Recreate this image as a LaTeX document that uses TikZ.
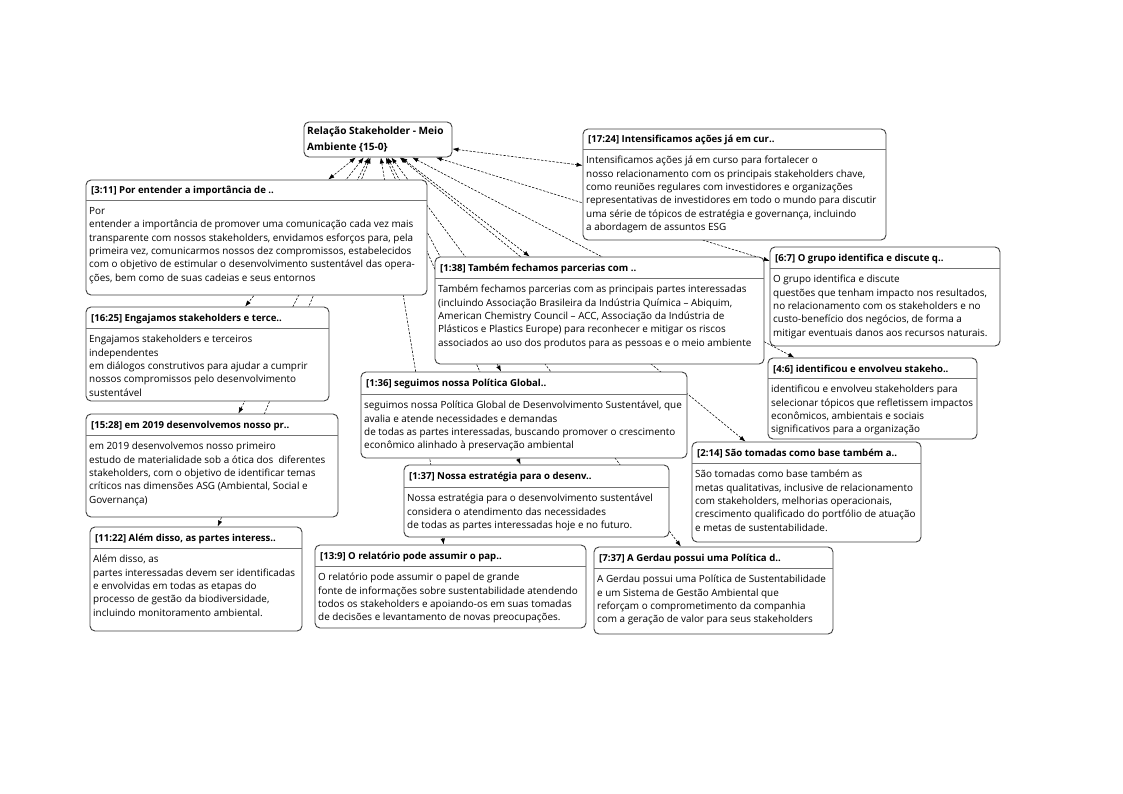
\documentclass[tikz,border=0pt]{standalone}
\usepackage{fontspec}
\setmainfont{Open Sans}
\usetikzlibrary{fit,arrows.meta}
\pgfdeclarelayer{background}
\pgfsetlayers{background,main}
\tikzset{
  qbox/.style={draw=black!75, line width=0.9pt, rounded corners=5pt, fill=white, inner sep=0pt},
  sepline/.style={draw=black!55, line width=0.8pt},
  ttl/.style={inner sep=0pt, font=\fontsize{9.6}{11}\selectfont\bfseries},
  bdy/.style={inner sep=0pt, align=left, font=\fontsize{9.9}{13.4}\selectfont},
  link/.style={black, line width=0.55pt, dash pattern=on 2.4pt off 1.4pt, {Latex[length=6pt,width=4.4pt]}-{Latex[length=6pt,width=4.4pt]}},
}
\newcommand{\qb}[8]{%
  \node[qbox, fit={(#2,#3) (#4,#5)}] (#1) {};
  \draw[sepline] (#2,#6) -- (#4,#6);
  \node[ttl, anchor=base west] at (#2+5,#3+14) {#7};
  \node[bdy, anchor=north west] at (#2+3,#6+7) {#8};
}
\begin{document}
\begin{tikzpicture}[x=1pt,y=-1pt]
\useasboundingbox (0,0) rectangle (1123,794);
% central code node
\node[qbox, fit={(304,122) (452,157)}] (c) {};
\node[inner sep=0pt, anchor=north west, align=left, font=\fontsize{10.1}{15.5}\selectfont\bfseries] at (307,127) {Relação Stakeholder - Meio\\Ambiente \{15-0\}};

\qb{q1724}{583}{129}{886}{240}{149}{[17:24] Intensificamos ações já em cur..}{Intensificamos ações já em curso para fortalecer o\\nosso relacionamento com os principais stakeholders chave,\\como reuniões regulares com investidores e organizações\\representativas de investidores em todo o mundo para discutir\\uma série de tópicos de estratégia e governança, incluindo\\a abordagem de assuntos ESG}

\qb{q311}{86}{180}{427}{295}{200}{[3:11] Por entender a importância de ..}{Por\\entender a importância de promover uma comunicação cada vez mais\\transparente com nossos stakeholders, envidamos esforços para, pela\\primeira vez, comunicarmos nossos dez compromissos, estabelecidos\\com o objetivo de estimular o desenvolvimento sustentável das opera-\\ções, bem como de suas cadeias e seus entornos}

\qb{q67}{770}{247}{1000}{346}{268}{[6:7] O grupo identifica e discute q..}{O grupo identifica e discute\\questões que tenham impacto nos resultados,\\no relacionamento com os stakeholders e no\\custo-benefício dos negócios, de forma a\\mitigar eventuais danos aos recursos naturais.}

\qb{q138}{435}{257}{764}{364}{278}{[1:38] Também fechamos parcerias com ..}{Também fechamos parcerias com as principais partes interessadas\\(incluindo Associação Brasileira da Indústria Química – Abiquim,\\American Chemistry Council – ACC, Associação da Indústria de\\Plásticos e Plastics Europe) para reconhecer e mitigar os riscos\\associados ao uso dos produtos para as pessoas e o meio ambiente}

\qb{q46}{768}{358}{977}{439}{378}{[4:6] identificou e envolveu stakeho..}{identificou e envolveu stakeholders para\\selecionar tópicos que refletissem impactos\\econômicos, ambientais e sociais\\significativos para a organização}

\qb{q1625}{86}{307}{329}{401}{328}{[16:25] Engajamos stakeholders e terce..}{Engajamos stakeholders e terceiros\\independentes\\em diálogos construtivos para ajudar a cumprir\\nossos compromissos pelo desenvolvimento\\sustentável}

\qb{q136}{361}{372}{687}{458}{394}{[1:36] seguimos nossa Política Global..}{seguimos nossa Política Global de Desenvolvimento Sustentável, que\\avalia e atende necessidades e demandas\\de todas as partes interessadas, buscando promover o crescimento\\econômico alinhado à preservação ambiental}

\qb{q1528}{86}{414}{338}{517}{435}{[15:28] em 2019 desenvolvemos nosso pr..}{em 2019 desenvolvemos nosso primeiro\\estudo de materialidade sob a ótica dos\ \ diferentes\\stakeholders, com o objetivo de identificar temas\\críticos nas dimensões ASG (Ambiental, Social e\\Governança)}

\qb{q214}{692}{442}{921}{542}{463}{[2:14] São tomadas como base também a..}{São tomadas como base também as\\metas qualitativas, inclusive de relacionamento\\com stakeholders, melhorias operacionais,\\crescimento qualificado do portfólio de atuação\\e metas de sustentabilidade.}

\qb{q137}{404}{465}{669}{537}{487}{[1:37] Nossa estratégia para o desenv..}{Nossa estratégia para o desenvolvimento sustentável\\considera o atendimento das necessidades\\de todas as partes interessadas hoje e no futuro.}

\qb{q1122}{90}{527}{302}{631}{548}{[11:22] Além disso, as partes interess..}{Além disso, as\\partes interessadas devem ser identificadas\\e envolvidas em todas as etapas do\\processo de gestão da biodiversidade,\\incluindo monitoramento ambiental.}

\qb{q139}{315}{545}{586}{628}{566}{[13:9] O relatório pode assumir o pap..}{O relatório pode assumir o papel de grande\\fonte de informações sobre sustentabilidade atendendo\\todos os stakeholders e apoiando-os em suas tomadas\\de decisões e levantamento de novas preocupações.}

\qb{q737}{594}{547}{833}{634}{568}{[7:37] A Gerdau possui uma Política d..}{A Gerdau possui uma Política de Sustentabilidade\\e um Sistema de Gestão Ambiental que\\reforçam o comprometimento da companhia\\com a geração de valor para seus stakeholders}

\begin{pgfonlayer}{background}
\foreach \q in {q1724,q311,q67,q138,q46,q1625,q136,q1528,q214,q137,q1122,q139,q737}
  \draw[link] (c) -- (\q);
\end{pgfonlayer}
\end{tikzpicture}
\end{document}
